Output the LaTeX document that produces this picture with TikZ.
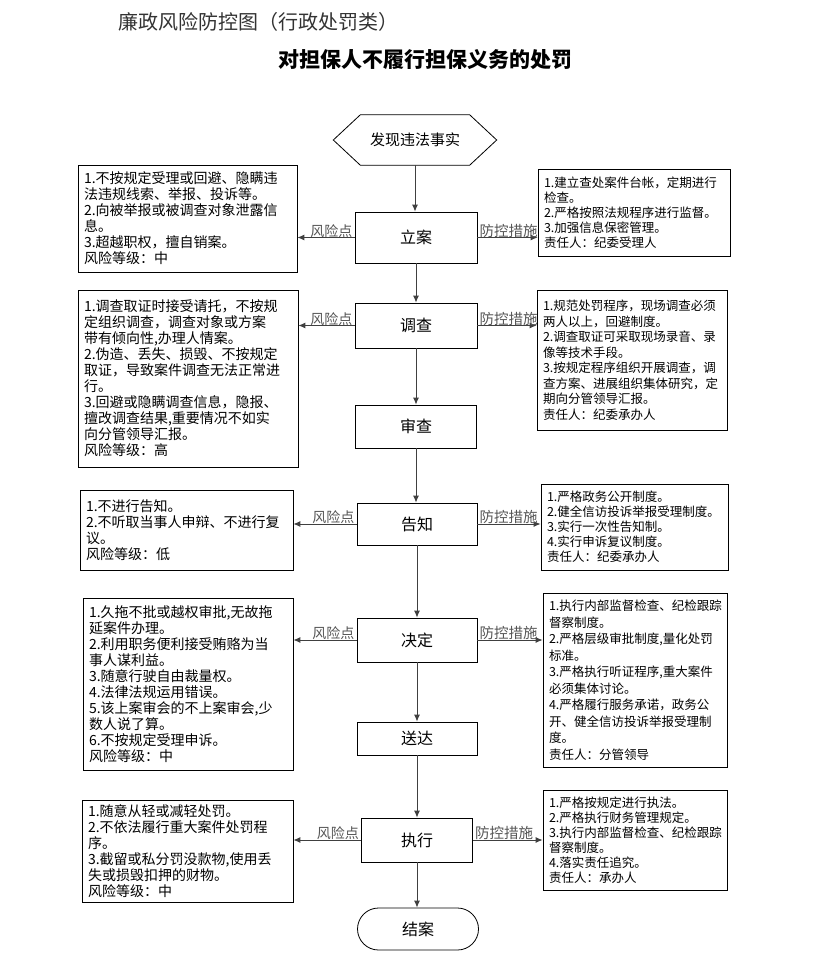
\documentclass[tikz,border=0pt]{standalone}
\usepackage{fontspec}
\setmainfont{Noto Sans CJK SC}
\usetikzlibrary{arrows.meta,shapes.misc}
\definecolor{linegray}{HTML}{404040}
\definecolor{labgray}{HTML}{555555}
\tikzset{
  flowbox/.style={draw=black,line width=0.8pt,rectangle,inner sep=0pt,font=\fontsize{16}{18}\selectfont},
  riskbox/.style={draw=black,line width=0.8pt,rectangle,inner xsep=6pt,inner ysep=0pt,align=left,font=\fontsize{14}{16}\selectfont},
  ctrlbox/.style={draw=black,line width=0.8pt,rectangle,inner xsep=6pt,inner ysep=0pt,align=left,font=\fontsize{12.5}{15}\selectfont},
  flowarrow/.style={draw=linegray,line width=0.9pt,-{Latex[length=7pt,width=6pt]}},
  risklab/.style={text=labgray,font=\fontsize{14}{14}\selectfont,inner sep=1pt,anchor=south east},
  ctrllab/.style={text=labgray,font=\fontsize{14.5}{14.5}\selectfont,inner sep=1pt,anchor=south west},
}
\begin{document}
\begin{tikzpicture}[x=1pt,y=-1pt]
\useasboundingbox (0,0) rectangle (823,967);
% header
\node[anchor=west,text=black!80,font=\fontsize{20}{22}\selectfont,inner sep=0pt] (hdr) at (118,22) {廉政风险防控图（行政处罚类）};
\node[font=\fontsize{21}{23}\selectfont\bfseries,inner sep=0pt] (title) at (425,60) {对担保人不履行担保义务的处罚};
% start hexagon
\node[minimum width=163pt,minimum height=50pt,inner sep=0pt,font=\fontsize{15}{17}\selectfont] (start) at (415,140) {发现违法事实};
\draw[line width=0.8pt] (start.west) -- ([xshift=27pt]start.north west) -- ([xshift=-27pt]start.north east) -- (start.east) -- ([xshift=-27pt]start.south east) -- ([xshift=27pt]start.south west) -- cycle;
% main flow
\node[flowbox,minimum width=122pt,minimum height=51pt] (la) at (416,237.5) {立案};
\node[flowbox,minimum width=122pt,minimum height=45pt] (dc) at (416,325.5) {调查};
\node[flowbox,minimum width=121pt,minimum height=43pt] (sc) at (416,426.5) {审查};
\node[flowbox,minimum width=120pt,minimum height=42pt] (gz) at (417,524) {告知};
\node[flowbox,minimum width=120pt,minimum height=44pt] (jd) at (417,640) {决定};
\node[flowbox,minimum width=120pt,minimum height=33pt] (sd) at (417,738.5) {送达};
\node[flowbox,minimum width=111pt,minimum height=44pt] (zx) at (417,840) {执行};
\node[flowbox,rounded rectangle,minimum width=121pt,minimum height=42pt] (ja) at (418,929) {结案};
\draw[flowarrow] (start.south) -- (start.south |- la.north);
\draw[flowarrow] (la.south) -- (la.south |- dc.north);
\draw[flowarrow] (dc.south) -- (dc.south |- sc.north);
\draw[flowarrow] (sc.south) -- (sc.south |- gz.north);
\draw[flowarrow] (gz.south) -- (gz.south |- jd.north);
\draw[flowarrow] (jd.south) -- (jd.south |- sd.north);
\draw[flowarrow] (sd.south) -- (sd.south |- zx.north);
\draw[flowarrow] (zx.south) -- (zx.south |- ja.north);
% risk boxes (left)
\node[riskbox,text width=207pt,minimum height=107pt] (l1) at (187.5,218.5) {1.不按规定受理或回避、隐瞒违\\法违规线索、举报、投诉等。\\2.向被举报或被调查对象泄露信\\息。\\3.超越职权，擅自销案。\\风险等级：中};
\node[riskbox,text width=208pt,minimum height=177pt] (l2) at (188,378.5) {1.调查取证时接受请托，不按规\\定组织调查，调查对象或方案\\带有倾向性,办理人情案。\\2.伪造、丢失、损毁、不按规定\\取证，导致案件调查无法正常进\\行。\\3.回避或隐瞒调查信息，隐报、\\擅改调查结果,重要情况不如实\\向分管领导汇报。\\风险等级：高};
\node[riskbox,text width=201pt,minimum height=80pt] (l3) at (186.5,530) {1.不进行告知。\\2.不听取当事人申辩、不进行复\\议。\\风险等级：低};
\node[riskbox,text width=198pt,minimum height=172pt] (l4) at (188,684) {1.久拖不批或越权审批,无故拖\\延案件办理。\\2.利用职务便利接受贿赂为当\\事人谋利益。\\3.随意行驶自由裁量权。\\4.法律法规运用错误。\\5.该上案审会的不上案审会,少\\数人说了算。\\6.不按规定受理申诉。\\风险等级：中};
\node[riskbox,text width=199pt,minimum height=102pt] (l5) at (187.5,851) {1.随意从轻或减轻处罚。\\2.不依法履行重大案件处罚程\\序。\\3.截留或私分罚没款物,使用丢\\失或损毁扣押的财物。\\风险等级：中};
% control boxes (right)
\node[ctrlbox,text width=180pt,minimum height=87pt] (r1) at (634,212.5) {1.建立查处案件台帐，定期进行\\检查。\\2.严格按照法规程序进行监督。\\3.加强信息保密管理。\\责任人：纪委受理人};
\node[ctrlbox,text width=178pt,minimum height=140pt,font=\fontsize{12.5}{15.5}\selectfont] (r2) at (632,360) {1.规范处罚程序，现场调查必须\\两人以上，回避制度。\\2.调查取证可采取现场录音、录\\像等技术手段。\\3.按规定程序组织开展调查，调\\查方案、进展组织集体研究，定\\期向分管领导汇报。\\责任人：纪委承办人};
\node[ctrlbox,text width=175pt,minimum height=86pt] (r3) at (634.5,527) {1.严格政务公开制度。\\2.健全信访投诉举报受理制度。\\3.实行一次性告知制。\\4.实行申诉复议制度。\\责任人：纪委承办人};
\node[ctrlbox,text width=172pt,minimum height=174pt,font=\fontsize{12.5}{16.5}\selectfont] (r4) at (635,680) {1.执行内部监督检查、纪检跟踪\\督察制度。\\2.严格层级审批制度,量化处罚\\标准。\\3.严格执行听证程序,重大案件\\必须集体讨论。\\4.严格履行服务承诺，政务公\\开、健全信访投诉举报受理制\\度。\\责任人：分管领导};
\node[ctrlbox,text width=172pt,minimum height=100pt] (r5) at (635,840) {1.严格按规定进行执法。\\2.严格执行财务管理规定。\\3.执行内部监督检查、纪检跟踪\\督察制度。\\4.落实责任追究。\\责任人：承办人};
% side arrows and labels
\foreach \m/\l/\r in {la/l1/r1,dc/l2/r2,gz/l3/r3,jd/l4/r4,zx/l5/r5}{
  \draw[flowarrow] (\m.west) -- (\m.west -| \l.east);
  \draw[flowarrow] (\m.east) -- (\m.east -| \r.west);
  \node[risklab] at ([xshift=-1pt,yshift=-1pt]\m.west) {风险点};
  \node[ctrllab] at ([xshift=1pt,yshift=-1pt]\m.east) {防控措施};
}
\end{tikzpicture}
\end{document}
